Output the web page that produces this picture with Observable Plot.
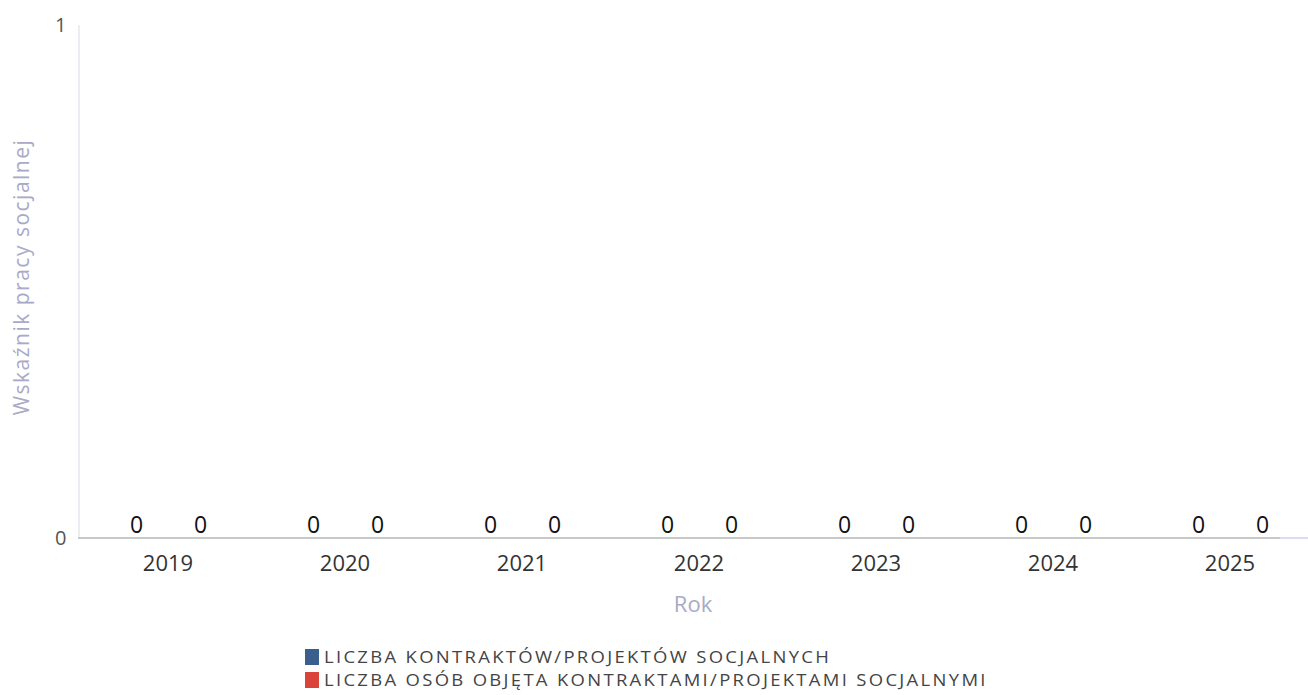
<!DOCTYPE html>
<html><head><meta charset="utf-8">
<script src="https://cdn.jsdelivr.net/npm/d3@7"></script>
<script src="https://cdn.jsdelivr.net/npm/@observablehq/plot@0.6"></script>
<style>
body{margin:0;background:#fff;font-family:"Open Sans",sans-serif;}
#legend{margin-left:305px;margin-top:23px;color:#444;}
#legend .it{display:flex;align-items:center;height:23px;}
#legend .it span{display:inline-block;font-size:16.8px;letter-spacing:2.1px;line-height:22px;height:22px;transform:scaleX(1.1);transform-origin:left center;white-space:nowrap;}
#legend .sw{width:14px;height:16px;margin-right:5px;flex:none;}
</style></head><body>
<div id="chart"></div>
<div id="legend"></div>
<script>
const years = ["2019","2020","2021","2022","2023","2024","2025"];
const seriesNames = ["LICZBA KONTRAKTÓW/PROJEKTÓW SOCJALNYCH","LICZBA OSÓB OBJĘTA KONTRAKTAMI/PROJEKTAMI SOCJALNYMI"];
const contracts = [0,0,0,0,0,0,0];
const persons = [0,0,0,0,0,0,0];
const colors = ["#3b5f8c","#d9433a"];
const yTicks = [0,1];

const data = [];
years.forEach((y,i)=>{
  data.push({year:y, series:seriesNames[0], value:contracts[i]});
  data.push({year:y, series:seriesNames[1], value:persons[i]});
});

const chart = Plot.plot({
  width:1308, height:622,
  marginTop:25, marginBottom:84, marginLeft:78, marginRight:0,
  style:{fontFamily:"'Open Sans',sans-serif", fontSize:"22px", color:"#333", overflow:"visible"},
  fx:{domain:years, range:[78,1318], padding:0, label:null},
  x:{domain:seriesNames, padding:0.1, paddingOuter:0.42, axis:null},
  y:{domain:[0,1], ticks:yTicks, label:null},
  color:{domain:seriesNames, range:colors},
  marks:[
    Plot.barY(data,{fx:"year", x:"series", y:"value", fill:"series"}),
    Plot.text(data,{fx:"year", x:"series", y:"value", text:d=>String(d.value), dy:-13, fontSize:23, fill:"#111"}),
    Plot.axisFx({anchor:"bottom", tickSize:0, tickPadding:17, fontSize:22, fill:"#333", label:null}),
    Plot.axisY({ticks:yTicks, tickFormat:d3.format("d"), tickSize:0, tickPadding:13, fontSize:20, fill:"#555", label:null})
  ]
});
document.getElementById("chart").appendChild(chart);

const svg = d3.select(chart);
const ys = chart.scale("y");
const y0 = ys.apply(0), y1 = ys.apply(1);
svg.append("line").attr("x1",79).attr("x2",79).attr("y1",y1).attr("y2",y0).attr("stroke","#e6e6f0").attr("stroke-width",1.5);
svg.append("line").attr("x1",78).attr("x2",1280).attr("y1",y0).attr("y2",y0).attr("stroke","#c8c8c8").attr("stroke-width",2);
svg.append("line").attr("x1",1280).attr("x2",1308).attr("y1",y0).attr("y2",y0).attr("stroke","#dcdcee").attr("stroke-width",2);
svg.append("text").text("Wskaźnik pracy socjalnej")
  .attr("transform","translate(29,277) rotate(-90)").attr("text-anchor","middle")
  .attr("font-size",21).attr("letter-spacing","1.5px").attr("fill","#a9a9c9");
svg.append("text").text("Rok").attr("x",693).attr("y",612).attr("text-anchor","middle")
  .attr("font-size",22).attr("fill","#a9a9c9");

const leg = d3.select("#legend");
seriesNames.forEach((s,i)=>{
  const it = leg.append("div").attr("class","it");
  it.append("div").attr("class","sw").style("background",colors[i]);
  it.append("span").text(s);
});
</script>
</body></html>
